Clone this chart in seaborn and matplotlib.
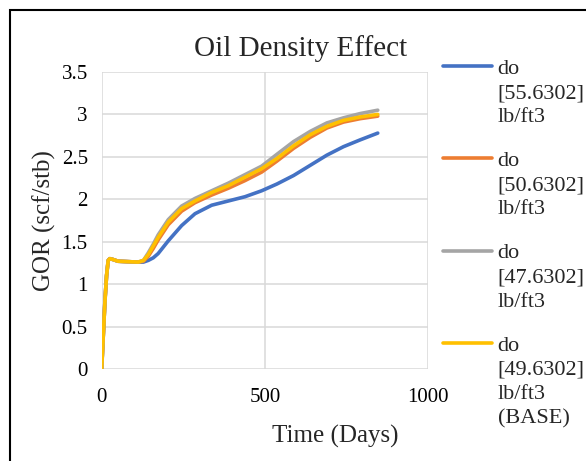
import matplotlib
matplotlib.use("Agg")
import matplotlib.pyplot as plt
import seaborn as sns
import pandas as pd
from matplotlib.patches import Rectangle

days = [0, 5, 10, 15, 20, 25, 35, 50, 80, 112, 128, 143, 158, 173, 204, 245, 286, 337,
        388, 439, 490, 537, 588, 639, 690, 741, 792, 846]
early = [0, 0.4, 0.8, 1.1, 1.28, 1.3, 1.29, 1.27, 1.265, 1.26]
gor_55 = early + [1.26, 1.28, 1.31, 1.36, 1.51, 1.69, 1.83, 1.93, 1.98, 2.03, 2.10, 2.18,
                  2.28, 2.40, 2.52, 2.62, 2.70, 2.78]
gor_50 = early + [1.27, 1.33, 1.42, 1.52, 1.70, 1.86, 1.96, 2.05, 2.13, 2.22, 2.32, 2.45,
                  2.60, 2.73, 2.84, 2.91, 2.95, 2.98]
gor_47 = early + [1.28, 1.37, 1.47, 1.58, 1.76, 1.92, 2.01, 2.10, 2.19, 2.29, 2.39, 2.53,
                  2.68, 2.80, 2.90, 2.96, 3.01, 3.05]
gor_49 = early + [1.28, 1.35, 1.45, 1.55, 1.73, 1.89, 1.98, 2.08, 2.16, 2.26, 2.36, 2.48,
                  2.63, 2.76, 2.86, 2.93, 2.97, 3.00]

labels = ["do\n[55.6302]\nlb/ft3", "do\n[50.6302]\nlb/ft3",
          "do\n[47.6302]\nlb/ft3", "do\n[49.6302]\nlb/ft3\n(BASE)"]
colors = ["#4472C4", "#ED7D31", "#A5A5A5", "#FFC000"]
series = [gor_55, gor_50, gor_47, gor_49]
x_ticks = [0, 500, 1000]
y_ticks = [0, 0.5, 1, 1.5, 2, 2.5, 3, 3.5]
y_ticklabels = ["0", "0.5", "1", "1.5", "2", "2.5", "3", "3.5"]

rows = []
for lab, vals in zip(labels, series):
    for d, v in zip(days, vals):
        rows.append({"Day": d, "GOR": v, "Series": lab})
df = pd.DataFrame(rows)

sns.set_style("white")
plt.rcParams["font.family"] = ["Liberation Serif", "DejaVu Serif"]

DPI = 100
fig = plt.figure(figsize=(5.86, 4.61), dpi=DPI)
ax = fig.add_axes([0.1735, 0.1996, 0.5569, 0.6442])

sns.lineplot(data=df, x="Day", y="GOR", hue="Series", hue_order=labels,
             palette=colors, linewidth=2.6, ax=ax, legend=False, sort=False)

ax.set_xlim(0, 1000)
ax.set_ylim(0, 3.5)
ax.set_xticks(x_ticks)
ax.set_yticks(y_ticks)
ax.set_yticklabels(y_ticklabels)
ax.grid(True, color="#D9D9D9", linewidth=1.1)
ax.set_axisbelow(True)
for s in ax.spines.values():
    s.set_visible(False)
ax.tick_params(axis="both", labelsize=15, colors="#D9D9D9", labelcolor="black",
               length=5, width=1.1)
ax.tick_params(axis="x", pad=8.5)
ax.tick_params(axis="y", pad=5)

ax.set_xlabel("Time (Days)", fontsize=18)
ax.xaxis.label.set_va("center")
ax.xaxis.set_label_coords((335 - 101.7) / 326.3, -(436 - 369) / 297)
ax.set_ylabel("GOR (scf/stb)", fontsize=18)
ax.yaxis.label.set_va("center")
ax.yaxis.set_label_coords((44 - 101.7) / 326.3, 0.5)
ax.text((301 - 101.7) / 326.3, 1 + (72 - 49) / 297,
        "Oil Density Effect", transform=ax.transAxes, ha="center", va="center",
        fontsize=21)

handles = ax.get_lines()[:4]
leg = ax.legend(handles, labels, loc="upper left", bbox_to_anchor=(1.019, 1.07),
                frameon=False, fontsize=16, handlelength=2.2,
                handletextpad=0.25, labelspacing=1.13, borderaxespad=0)
for t in leg.get_texts():
    t.set_linespacing(1.36)

# move each legend line to the level of the first text line
fig.canvas.draw()
texts = leg.get_texts()
leglines = leg.get_lines()
h3 = texts[0].get_window_extent().height
h4 = texts[3].get_window_extent().height
L = h4 - h3
for t, ln, lab in zip(texts, leglines, labels):
    n = lab.count("\n") + 1
    bb = t.get_window_extent()
    h1 = bb.height - (n - 1) * L
    target = bb.y1 - h1 / 2 + 3
    cur = ln.get_window_extent(fig.canvas.get_renderer())
    cur_y = (cur.y0 + cur.y1) / 2
    delta_pt = (target - cur_y) * 72 / DPI
    yd = ln.get_ydata()
    ln.set_ydata([y + delta_pt for y in yd])

fig.patches.append(Rectangle((10 / 586, -0.1), 1.2, 1 - 10 / 461 + 0.1,
                             transform=fig.transFigure, fill=False,
                             edgecolor="black", linewidth=1.5))

fig.savefig("out.png", dpi=DPI)
